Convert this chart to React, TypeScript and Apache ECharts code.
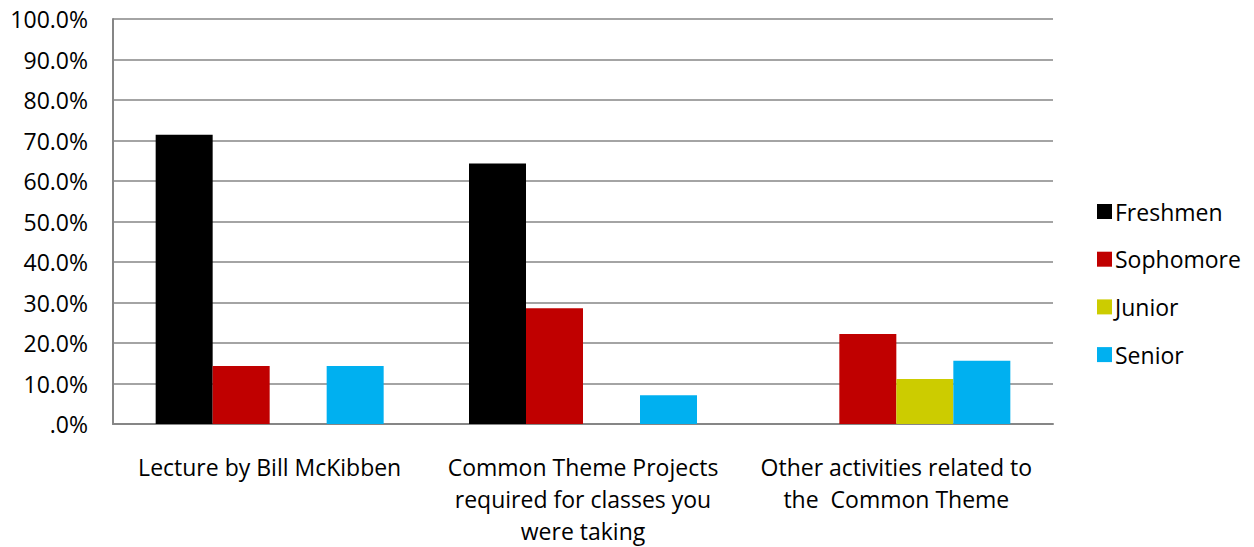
import React, { useEffect, useRef } from "react";
import * as echarts from "echarts";

const categories = [
  "Lecture by Bill McKibben",
  "Common Theme Projects\nrequired for classes you\nwere taking",
  "Other activities related to\nthe  Common Theme",
];
const seriesNames = ["Freshmen", "Sophomore", "Junior", "Senior"];
const freshmen = [71.4, 64.3, 0];
const sophomore = [14.3, 28.6, 22.2];
const junior = [0, 0, 11.1];
const senior = [14.3, 7.1, 15.6];
const colors = ["#000000", "#C00000", "#CCCC00", "#00B0F0"];
const yTicks = [0, 10, 20, 30, 40, 50, 60, 70, 80, 90, 100];

export default function App() {
  const ref = useRef<HTMLDivElement>(null);
  useEffect(() => {
    if (!ref.current) return;
    const chart = echarts.init(ref.current, null, { renderer: "svg" });
    const font = "'Open Sans', 'Noto Sans', sans-serif";
    const data = [freshmen, sophomore, junior, senior];
    chart.setOption({
      animation: false,
      textStyle: { fontFamily: font },
      grid: { left: 113, right: 201, top: 19, bottom: 121, containLabel: false },
      legend: {
        orient: "vertical",
        left: 1092,
        top: 195,
        itemWidth: 15,
        itemHeight: 15,
        itemGap: 24.7,
        icon: "rect",
        textStyle: { fontSize: 23, color: "#000", fontFamily: font, padding: [0, 0, 0, -2] },
        data: seriesNames,
      },
      xAxis: {
        type: "category",
        data: categories,
        axisLine: { show: true, lineStyle: { color: "#868686", width: 2 } },
        axisTick: { show: false },
        axisLabel: {
          interval: 0,
          color: "#000",
          fontSize: 23,
          lineHeight: 32,
          margin: 27,
          fontFamily: font,
        },
      },
      yAxis: {
        type: "value",
        min: 0,
        max: 100,
        interval: 10,
        axisLine: { show: true, lineStyle: { color: "#868686", width: 2 } },
        axisTick: { show: false },
        splitLine: { show: true, lineStyle: { color: "#868686", width: 1.5 } },
        axisLabel: {
          color: "#000",
          fontSize: 23,
          margin: 25,
          fontFamily: font,
          formatter: (v: number) => (yTicks.includes(v) ? (v === 0 ? ".0%" : v.toFixed(1) + "%") : ""),
        },
      },
      series: seriesNames.map((name, i) => ({
        name,
        type: "bar",
        data: data[i],
        barWidth: 57,
        barGap: "0%",
        itemStyle: { color: colors[i] },
      })),
    });
    return () => chart.dispose();
  }, []);
  return (
    <div
      ref={ref}
      style={{ position: "absolute", left: 0, top: 0, width: 1254, height: 547 }}
    />
  );
}
